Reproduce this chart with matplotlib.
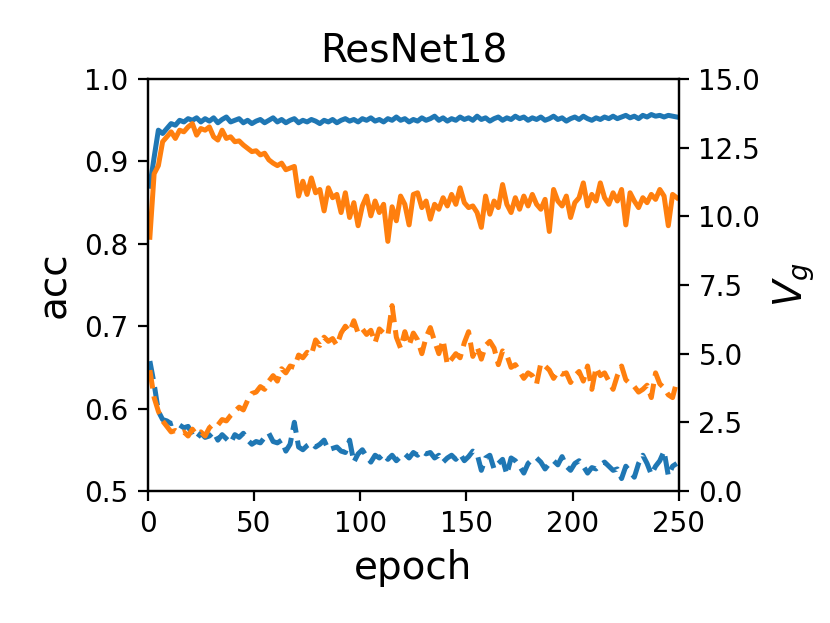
import numpy as np
import matplotlib
matplotlib.use("Agg")
import matplotlib.pyplot as plt

# values, one every 2 epochs (1, 3, ..., 249)
epochs = np.arange(1, 250, 2)

acc_blue = [0.870, 0.905, 0.938, 0.934, 0.940, 0.946, 0.944, 0.950, 0.948, 0.952,
            0.950, 0.953, 0.948, 0.952, 0.949, 0.953, 0.947, 0.951, 0.954, 0.948,
            0.950, 0.952, 0.947, 0.950, 0.946, 0.949, 0.951, 0.947, 0.950, 0.953,
            0.948, 0.951, 0.947, 0.950, 0.952, 0.947, 0.950, 0.948, 0.951, 0.949,
            0.946, 0.950, 0.948, 0.951, 0.947, 0.950, 0.952, 0.949, 0.951, 0.948,
            0.952, 0.950, 0.953, 0.949, 0.951, 0.948, 0.952, 0.950, 0.954, 0.950,
            0.952, 0.948, 0.951, 0.949, 0.953, 0.950, 0.952, 0.955, 0.950, 0.953,
            0.949, 0.952, 0.950, 0.954, 0.951, 0.953, 0.950, 0.955, 0.951, 0.953,
            0.949, 0.952, 0.954, 0.950, 0.953, 0.951, 0.955, 0.952, 0.954, 0.950,
            0.953, 0.951, 0.954, 0.950, 0.952, 0.955, 0.951, 0.953, 0.949, 0.952,
            0.954, 0.951, 0.955, 0.952, 0.950, 0.953, 0.951, 0.954, 0.952, 0.955,
            0.952, 0.954, 0.956, 0.953, 0.955, 0.952, 0.956, 0.954, 0.957, 0.955,
            0.956, 0.954, 0.956, 0.955, 0.954]

acc_orange = [0.808, 0.885, 0.895, 0.924, 0.930, 0.936, 0.928, 0.938, 0.936, 0.942,
              0.946, 0.932, 0.940, 0.938, 0.942, 0.930, 0.926, 0.938, 0.928, 0.930,
              0.924, 0.925, 0.920, 0.916, 0.912, 0.913, 0.908, 0.910, 0.902, 0.898,
              0.895, 0.898, 0.890, 0.892, 0.894, 0.858, 0.876, 0.860, 0.880, 0.862,
              0.866, 0.840, 0.868, 0.856, 0.860, 0.838, 0.862, 0.832, 0.850, 0.822,
              0.846, 0.858, 0.834, 0.852, 0.838, 0.848, 0.803, 0.845, 0.828, 0.858,
              0.848, 0.823, 0.860, 0.862, 0.844, 0.852, 0.830, 0.848, 0.842, 0.856,
              0.846, 0.860, 0.848, 0.868, 0.850, 0.844, 0.846, 0.838, 0.820, 0.858,
              0.836, 0.852, 0.844, 0.872, 0.848, 0.838, 0.856, 0.842, 0.858, 0.846,
              0.860, 0.848, 0.842, 0.854, 0.815, 0.866, 0.852, 0.846, 0.858, 0.832,
              0.850, 0.856, 0.874, 0.846, 0.860, 0.852, 0.874, 0.856, 0.848, 0.862,
              0.852, 0.866, 0.823, 0.862, 0.852, 0.844, 0.856, 0.850, 0.860, 0.854,
              0.866, 0.858, 0.822, 0.860, 0.856]

vg_blue = [4.73, 3.9, 2.9, 2.6, 2.55, 2.45, 2.5, 2.4, 2.3, 2.35,
           2.05, 1.9, 2.1, 1.95, 2.0, 2.15, 1.85, 2.05, 1.9, 1.75,
           2.05, 1.95, 2.1, 1.85, 1.7, 1.8, 1.75, 1.95, 2.1, 1.8,
           1.75, 1.85, 1.45, 1.7, 2.5, 1.6, 1.5, 1.65, 1.75, 1.6,
           1.7, 1.85, 1.5, 1.55, 1.6, 1.45, 1.4, 1.85, 1.05, 1.35,
           1.5, 1.25, 1.05, 1.3, 1.2, 1.35, 1.15, 1.3, 1.1, 1.25,
           1.35, 1.2, 1.4, 1.3, 1.45, 1.35, 1.4, 1.2, 1.3, 1.05,
           1.2, 1.3, 1.15, 1.35, 1.1, 1.25, 1.45, 1.35, 0.75, 1.2,
           1.3, 0.8, 1.0, 1.15, 0.6, 1.2, 1.1, 0.9, 0.65, 1.0,
           1.15, 1.2, 1.05, 0.8, 1.0, 1.1, 0.95, 1.25, 0.9, 0.75,
           1.0, 1.1, 0.9, 0.65, 0.85, 0.8, 0.95, 1.05, 0.9, 0.75,
           0.8, 0.45, 0.9, 0.7, 0.5, 1.0, 1.3, 1.0, 0.6, 0.9,
           1.1, 1.45, 0.55, 0.9, 1.0]

vg_orange = [4.4, 3.4, 2.9, 2.55, 2.35, 2.15, 2.2, 2.1, 2.15, 2.0,
             2.25, 2.05, 2.15, 2.0, 2.3, 2.45, 2.4, 2.6, 2.55, 2.75,
             2.9, 3.05, 2.95, 3.3, 3.55, 3.6, 3.8, 3.7, 4.0, 4.2,
             4.0, 4.45, 4.3, 4.55, 4.5, 4.95, 4.85, 5.05, 4.95, 5.5,
             5.3, 5.6, 5.45, 5.55, 5.3, 5.75, 6.0, 5.8, 6.2, 5.75,
             5.9, 5.7, 5.85, 5.4, 5.9, 5.75, 5.65, 6.75, 5.6, 5.2,
             5.8, 5.3, 5.75, 5.5, 5.0, 5.6, 5.95, 5.45, 5.0, 5.5,
             4.6, 4.8, 5.0, 4.85, 5.4, 5.8, 4.9, 5.25, 4.8, 5.3,
             5.45, 5.2, 4.6, 5.1, 4.95, 4.5, 4.6, 4.35, 4.1, 4.3,
             4.2, 3.9, 4.65, 4.55, 4.4, 4.1, 4.35, 4.25, 4.3, 3.95,
             4.2, 4.35, 4.0, 4.55, 3.7, 4.5, 4.2, 4.3, 4.0, 3.7,
             4.2, 4.55, 4.05, 3.9, 3.8, 3.6, 3.7, 3.85, 3.4, 4.3,
             3.9, 3.75, 3.5, 3.4, 4.0]

fig, ax = plt.subplots(figsize=(4.15, 3.115), dpi=200)
ax2 = ax.twinx()
pos = [0.178, 0.212, 0.640, 0.661]
ax.set_position(pos)
ax2.set_position(pos)

ax.plot(epochs, acc_blue, color="C0", lw=1.8)
ax.plot(epochs, acc_orange, color="C1", lw=1.8)
ax.set_xlim(0, 250)
ax.set_ylim(0.5, 1.0)
ax.set_xlabel("epoch", fontsize=14)
ax.set_ylabel("acc", fontsize=14)
ax.set_title("ResNet18", fontsize=14)
ax.tick_params(labelsize=10)

ax2.plot(epochs, vg_blue, color="C0", lw=1.8, ls="--")
ax2.plot(epochs, vg_orange, color="C1", lw=1.8, ls="--")
ax2.set_ylim(0, 15)
ax2.set_yticks(np.arange(0, 15.1, 2.5))
ax2.set_ylabel("$V_g$", fontsize=14)
ax2.tick_params(labelsize=10)

fig.savefig("out.png", dpi=200)
